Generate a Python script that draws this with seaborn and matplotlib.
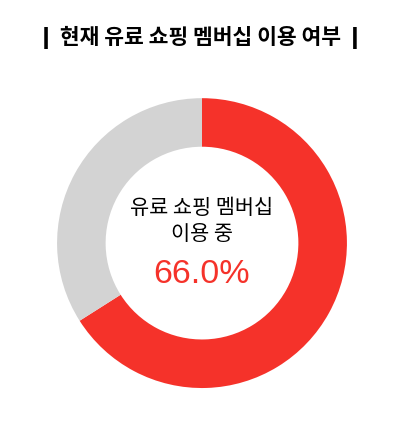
import matplotlib
matplotlib.use('Agg')
import matplotlib.pyplot as plt
import seaborn as sns

# 데이터
labels = ['유료 쇼핑 멤버십 이용 중', '미이용']
values = [66.0, 34.0]
colors = ['#F5322A', '#D3D3D3']
center_lines = ['유료 쇼핑 멤버십', '이용 중']
title = '현재 유료 쇼핑 멤버십 이용 여부'

sns.set_theme(style='white')
plt.rcParams['font.family'] = ['Noto Sans CJK KR', 'DejaVu Sans']

fig = plt.figure(figsize=(4, 4.25), dpi=100)
fig.patch.set_facecolor('white')

# 도넛 차트
ax = fig.add_axes([0.1425, 0.087, 0.725, 0.682])
ax.pie(values, colors=colors, startangle=90, counterclock=False,
       radius=1, wedgeprops=dict(width=0.335, edgecolor='none'))
ax.set_xlim(-1, 1)
ax.set_ylim(-1, 1)
ax.set_aspect('equal')
ax.axis('off')

# 가운데 글자
ax.text(0, 0.241, center_lines[0], ha='center', va='center', fontsize=15, color='black')
ax.text(0, 0.062, center_lines[1], ha='center', va='center', fontsize=15, color='black')
ax.text(0, -0.214, f'{values[0]:.1f}%', ha='center', va='center',
        fontsize=24.5, color=colors[0], family=['Liberation Sans', 'DejaVu Sans'])

# 제목
fig.text(0.5, 0.911, f'\u2759 {title} \u2759', ha='center', va='center',
         fontsize=15.5, fontweight='bold', color='black')

plt.savefig('out.png', dpi=100, facecolor='white')
